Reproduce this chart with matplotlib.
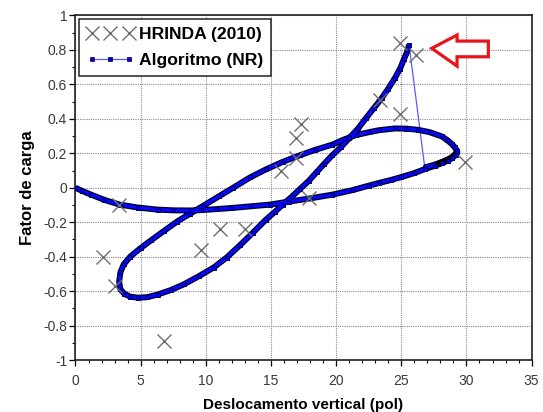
import matplotlib
matplotlib.use("Agg")
import matplotlib.pyplot as plt
import matplotlib.patheffects as pe
from matplotlib.patches import Polygon
from matplotlib.ticker import MultipleLocator, FuncFormatter

plt.rcParams['font.family'] = ['Liberation Sans', 'DejaVu Sans']

# HRINDA (2010) reference points
hrinda_x = [2.1, 3.0, 3.35, 6.8, 9.6, 11.1, 13.0, 15.8, 16.9, 16.9, 17.3, 17.95,
            23.4, 24.9, 24.9, 26.1, 29.9]
hrinda_y = [-0.40, -0.57, -0.10, -0.89, -0.36, -0.24, -0.24, 0.10, 0.17, 0.29, 0.37, -0.06,
            0.51, 0.43, 0.84, 0.77, 0.15]

# Algoritmo (NR) path, first part (until the snap)
alg_x_a = [0.0, 0.5, 1.2, 2.2, 3.4, 4.8, 6.3, 7.5, 8.8, 9.6, 10.8, 11.9, 13.4, 14.9, 16.4,
           18.0, 19.7, 21.2, 22.5, 23.3, 24.2, 25.0, 26.0, 26.8, 27.6, 28.1, 28.6, 28.9, 29.2,
           29.3, 29.1, 28.9, 28.5, 28.1, 27.2, 26.3, 25.4, 24.5, 23.3, 22.5, 21.5, 20.6, 19.7,
           18.4, 17.2, 15.9, 14.6, 13.4, 12.1, 11.0, 9.8, 8.8, 7.8, 6.8, 5.8, 5.0, 4.2, 3.7,
           3.45, 3.35, 3.45, 3.75, 4.2, 4.8, 5.5, 6.3, 7.3, 8.3, 9.5, 10.6, 11.6, 12.6, 13.6,
           14.6, 15.3, 15.9, 16.6, 17.2, 17.9, 18.5, 19.1, 19.7, 20.4, 21.0, 21.7, 22.3, 22.9,
           23.5, 24.0, 24.5, 24.9, 25.2, 25.4, 25.55, 25.6]
alg_y_a = [0.0, -0.018, -0.040, -0.070, -0.098, -0.115, -0.127, -0.131, -0.132, -0.130, -0.124,
           -0.118, -0.108, -0.098, -0.080, -0.062, -0.040, -0.015, 0.012, 0.028, 0.045, 0.062,
           0.085, 0.108, 0.128, 0.142, 0.158, 0.172, 0.192, 0.212, 0.235, 0.252, 0.278, 0.298,
           0.322, 0.336, 0.343, 0.344, 0.334, 0.322, 0.305, 0.280, 0.250, 0.220, 0.188, 0.150,
           0.106, 0.060, 0.000, -0.050, -0.105, -0.150, -0.196, -0.250, -0.305, -0.350, -0.400,
           -0.445, -0.490, -0.545, -0.590, -0.615, -0.632, -0.638, -0.635, -0.620, -0.594,
           -0.561, -0.512, -0.463, -0.405, -0.335, -0.262, -0.186, -0.140, -0.098, -0.052,
           -0.009, 0.040, 0.090, 0.140, 0.188, 0.238, 0.287, 0.345, 0.405, 0.462, 0.520, 0.575,
           0.635, 0.690, 0.745, 0.780, 0.815, 0.830]
# after the snap (converging, very dense markers)
alg_x_b = [26.8, 27.3, 27.8, 28.2, 28.6, 28.9, 29.1, 29.25]
alg_y_b = [0.118, 0.128, 0.140, 0.152, 0.165, 0.178, 0.192, 0.205]

alg_x = alg_x_a + alg_x_b
alg_y = alg_y_a + alg_y_b

x_ticks = [0, 5, 10, 15, 20, 25, 30, 35]
y_ticks = [-1, -0.8, -0.6, -0.4, -0.2, 0, 0.2, 0.4, 0.6, 0.8, 1]

fig = plt.figure(figsize=(5.43, 4.12), dpi=100)
ax = fig.add_axes([0.139, 0.126, 0.840, 0.8366])

# thin connecting line with markers (legend series)
ax.plot(alg_x, alg_y, color='#5a5aff', lw=0.9, marker='s', ms=3.2,
        mfc='#0000d0', mec='#000040', mew=0.5, zorder=2, label='Algoritmo (NR)')
# dense chain of markers (drawn as outlined thick line)
chain_fx = [pe.Stroke(linewidth=4.3, foreground='#000020'), pe.Normal()]
ax.plot(alg_x_a, alg_y_a, color='#0808ff', lw=2.5, zorder=3,
        path_effects=chain_fx, solid_capstyle='butt', solid_joinstyle='round')
ax.plot(alg_x_b, alg_y_b, color='#0808ff', lw=2.5, zorder=3,
        path_effects=chain_fx, solid_capstyle='butt', solid_joinstyle='round')
ax.plot(alg_x_b[2:], alg_y_b[2:], color='#000000', lw=4.0, zorder=3.5, solid_capstyle='round')
ax.plot(alg_x_a, alg_y_a, ls='none', marker='s', ms=2.6, mfc='#0000f0', mec='#000030',
        mew=0.4, zorder=4)

ax.plot(hrinda_x, hrinda_y, ls='none', marker='x', ms=10, mew=1.0,
        color='#6e6e6e', zorder=5, label='HRINDA (2010)')

# red arrow annotation
arrow = Polygon([[27.34, 0.809], [29.28, 0.886], [29.28, 0.851], [31.68, 0.851],
                 [31.68, 0.760], [29.28, 0.760], [29.28, 0.706]],
                closed=True, facecolor='white', edgecolor='#e8141c', lw=2.3,
                joinstyle='miter', zorder=6, clip_on=False)
ax.add_patch(arrow)

ax.set_xlim(0, 35)
ax.set_ylim(-1, 1)
ax.set_xticks(x_ticks)
ax.set_yticks(y_ticks)
ax.xaxis.set_minor_locator(MultipleLocator(1))
ax.yaxis.set_minor_locator(MultipleLocator(0.1))
ax.yaxis.set_major_formatter(FuncFormatter(lambda v, p: '%g' % round(v, 2)))
ax.xaxis.set_major_formatter(FuncFormatter(lambda v, p: '%g' % v))
ax.tick_params(which='major', direction='out', length=4, width=0.9, labelsize=10,
               labelcolor='#3a3a3a', pad=2)
ax.tick_params(axis='x', which='major', pad=6)
ax.tick_params(which='minor', direction='out', length=2, width=0.8)
ax.grid(True, which='major', color='#8a8a8a', ls=(0, (1, 1)), lw=0.8)
ax.set_axisbelow(True)
for s in ax.spines.values():
    s.set_linewidth(1.2)
    s.set_color('#202020')

ax.set_xlabel('Deslocamento vertical (pol)', fontsize=11, fontweight='bold', labelpad=7)
ax.set_ylabel('Fator de carga', fontsize=12, fontweight='bold', labelpad=6)

handles, labels = ax.get_legend_handles_labels()
leg = ax.legend([handles[1], handles[0]], [labels[1], labels[0]], loc='upper left',
                numpoints=3, fancybox=False, framealpha=1, edgecolor='#202020',
                prop={'size': 12.6, 'weight': 'bold'}, handlelength=2.7, handletextpad=0.3,
                borderpad=0.45, labelspacing=0.6, borderaxespad=0.2)
leg.get_frame().set_linewidth(1.1)

fig.savefig('out.png', dpi=100)
